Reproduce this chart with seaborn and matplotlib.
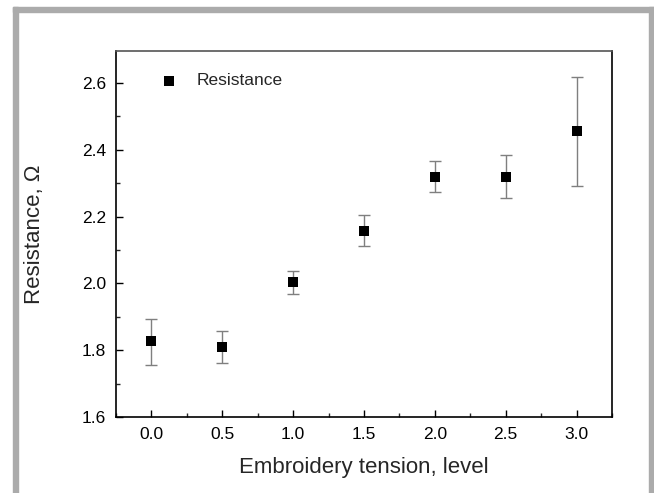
import matplotlib
matplotlib.use("Agg")
import matplotlib.pyplot as plt
import seaborn as sns
import pandas as pd
from matplotlib.patches import Rectangle
from matplotlib.ticker import MultipleLocator

tension = [0.0, 0.5, 1.0, 1.5, 2.0, 2.5, 3.0]
resistance = [1.827, 1.810, 2.004, 2.158, 2.320, 2.318, 2.456]
err_low = [1.757, 1.762, 1.969, 2.111, 2.273, 2.255, 2.293]
err_high = [1.893, 1.858, 2.037, 2.206, 2.367, 2.385, 2.618]

df = pd.DataFrame({"tension": tension, "resistance": resistance})

sns.set_style("ticks")
plt.rcParams['font.family'] = ['Liberation Sans', 'DejaVu Sans']

fig = plt.figure(figsize=(6.54, 4.93), dpi=100)
ax = fig.add_axes([116/654, 1-417/493, (612-116)/654, (417-51)/493])

yerr = [[r - l for r, l in zip(resistance, err_low)],
        [h - r for r, h in zip(resistance, err_high)]]
ax.errorbar(tension, resistance, yerr=yerr, fmt='none', ecolor='#7f7f7f',
            elinewidth=1.0, capsize=4, capthick=1.0, zorder=2)
sns.scatterplot(data=df, x="tension", y="resistance", marker='s', s=48,
                color='black', edgecolor='black', linewidth=0, ax=ax,
                label="Resistance", zorder=3)

ax.set_xlim(-0.25, 3.25)
ax.set_ylim(1.6, 2.696)
ax.xaxis.set_minor_locator(MultipleLocator(0.25))
ax.yaxis.set_minor_locator(MultipleLocator(0.1))
ax.set_xticks([0.0, 0.5, 1.0, 1.5, 2.0, 2.5, 3.0])
ax.set_xticklabels(["0.0", "0.5", "1.0", "1.5", "2.0", "2.5", "3.0"])
ax.set_yticks([1.6, 1.8, 2.0, 2.2, 2.4, 2.6])
ax.set_yticklabels(["1.6", "1.8", "2.0", "2.2", "2.4", "2.6"])
ax.tick_params(which='major', direction='in', length=5, width=1, labelsize=12.5,
               colors='black', pad=7, top=False, right=False)
ax.tick_params(which='minor', direction='in', length=3, width=1,
               top=False, right=False)
for s in ax.spines.values():
    s.set_visible(True)
    s.set_color('black')
    s.set_linewidth(1.2)
ax.spines['top'].set_color('#555555')

ax.set_xlabel("Embroidery tension, level", fontsize=16, labelpad=11)
ax.set_ylabel("Resistance, Ω", fontsize=16, labelpad=27)

leg = ax.legend(loc='upper left', bbox_to_anchor=(0.04, 0.982), frameon=False,
                fontsize=12.5, handletextpad=0.6, markerscale=1.0)

fc = '#ababab'
fig.patches.append(Rectangle((13/654, 0), 5/654, 1-7/493, transform=fig.transFigure, color=fc, zorder=0))
fig.patches.append(Rectangle((649/654, 0), 5/654, 1-7/493, transform=fig.transFigure, color=fc, zorder=0))
fig.patches.append(Rectangle((13/654, 1-12/493), 641/654, 5/493, transform=fig.transFigure, color=fc, zorder=0))

fig.savefig("out.png", dpi=100)
